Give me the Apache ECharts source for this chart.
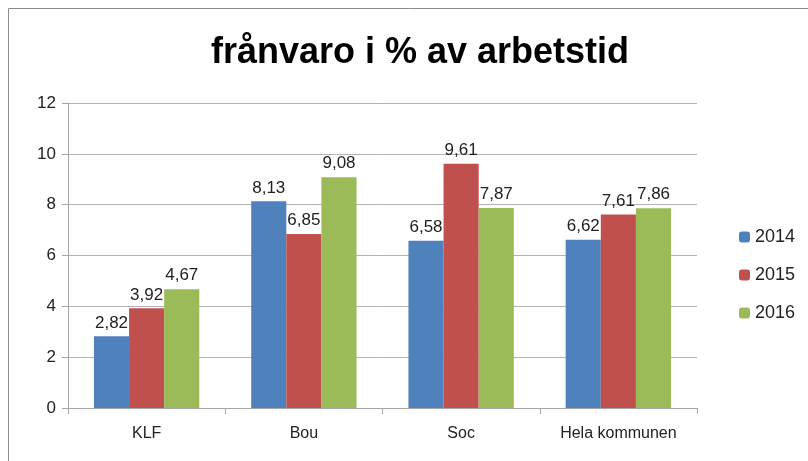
<!DOCTYPE html>
<html>
<head>
<meta charset="utf-8">
<script src="https://cdn.jsdelivr.net/npm/echarts@6/dist/echarts.min.js"></script>
<style>
  html, body { margin: 0; padding: 0; background: #fff; }
  #chart { width: 808px; height: 461px; }
</style>
</head>
<body>
<div id="chart"></div>
<script>
const categories = ['KLF', 'Bou', 'Soc', 'Hela kommunen']
const years = ['2014', '2015', '2016']
const values2014 = [2.82, 8.13, 6.58, 6.62]
const values2015 = [3.92, 6.85, 9.61, 7.61]
const values2016 = [4.67, 9.08, 7.87, 7.86]
const colors = ['#4F81BD', '#C0504D', '#9BBB59']
const yTicks = { min: 0, max: 12, interval: 2 }

const font = "'Liberation Sans', sans-serif"
const seriesValues = [values2014, values2015, values2016]

const chart = echarts.init(document.getElementById('chart'))
chart.setOption({
  animation: false,
  textStyle: { fontFamily: font },
  graphic: [{
    type: 'rect',
    shape: { x: 8.5, y: 8.5, width: 900, height: 600 },
    style: { fill: 'none', stroke: '#8c8c8c', lineWidth: 1 }
  }],
  title: {
    text: 'frånvaro i % av arbetstid',
    left: 415,
    top: 30,
    textAlign: 'center',
    textStyle: { fontFamily: font, fontWeight: 'bold', fontSize: 36, color: '#000' }
  },
  legend: {
    orient: 'vertical',
    left: 734,
    top: 223,
    itemWidth: 11,
    itemHeight: 11,
    itemGap: 20,
    textStyle: { fontFamily: font, fontSize: 18, color: '#222' },
    data: years
  },
  grid: { left: 68, right: 111, top: 103, bottom: 53 },
  xAxis: {
    type: 'category',
    data: categories,
    axisLine: { lineStyle: { color: '#a6a6a6' } },
    axisTick: { show: true, length: 6, lineStyle: { color: '#a6a6a6' } },
    axisLabel: { interval: 0, fontFamily: font, fontSize: 16, color: '#222', margin: 18 }
  },
  yAxis: {
    type: 'value',
    min: yTicks.min,
    max: yTicks.max,
    interval: yTicks.interval,
    axisLine: { show: true, lineStyle: { color: '#a6a6a6' } },
    axisTick: { show: true, length: 6, lineStyle: { color: '#a6a6a6' } },
    splitLine: { lineStyle: { color: '#b3b3b3' } },
    axisLabel: { fontFamily: font, fontSize: 17, color: '#222', margin: 12 }
  },
  series: years.map((y, i) => ({
    name: y,
    type: 'bar',
    data: seriesValues[i],
    barGap: '0%',
    barCategoryGap: '33%',
    itemStyle: { color: colors[i] },
    label: {
      show: true,
      position: 'top',
      distance: 5,
      fontFamily: font,
      fontSize: 17,
      color: '#222',
      formatter: p => p.value.toFixed(2).replace('.', ',')
    }
  }))
})
</script>
</body>
</html>
